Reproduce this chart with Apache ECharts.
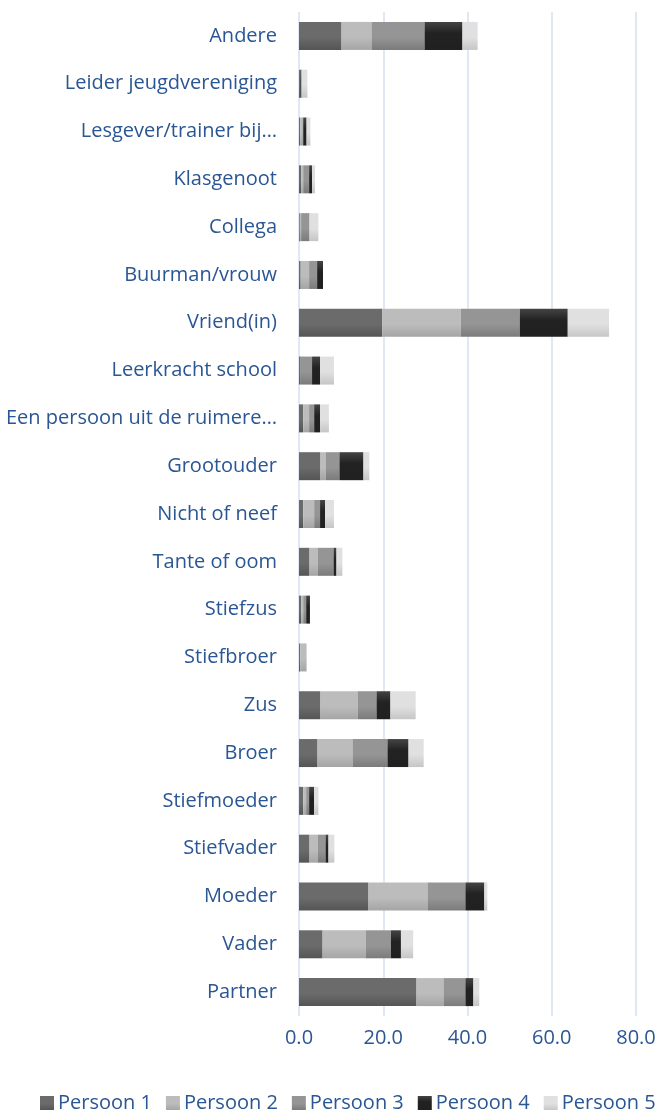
<!DOCTYPE html>
<html>
<head>
<meta charset="utf-8">
<script src="https://cdn.jsdelivr.net/npm/echarts@6/dist/echarts.min.js"></script>
<style>
  html, body { margin: 0; padding: 0; background: #fff; }
  #chart { width: 655px; height: 1110px; }
</style>
</head>
<body>
<div id="chart"></div>
<script>
var categories = ['Andere', 'Leider jeugdvereniging', 'Lesgever/trainer bij…', 'Klasgenoot', 'Collega',
    'Buurman/vrouw', 'Vriend(in)', 'Leerkracht school', 'Een persoon uit de ruimere…', 'Grootouder',
    'Nicht of neef', 'Tante of oom', 'Stiefzus', 'Stiefbroer', 'Zus', 'Broer', 'Stiefmoeder',
    'Stiefvader', 'Moeder', 'Vader', 'Partner'];

var persoon1 = [10.1, 0.3, 0.3, 0.5, 0.2, 0.4, 19.8, 0.4, 1.0, 5.1, 1.0, 2.5, 0.5, 0.3, 5.1, 4.4, 1.0, 2.5, 16.5, 5.6, 27.9];
var persoon2 = [7.1, 0, 0.5, 0.5, 0.3, 2.0, 18.6, 0, 1.4, 1.2, 2.6, 1.9, 0.5, 1.5, 8.8, 8.3, 0.7, 1.9, 14.0, 10.2, 6.4];
var persoon3 = [12.6, 0, 0.2, 1.4, 2.0, 1.9, 14.0, 2.7, 1.2, 3.3, 1.4, 3.8, 0.7, 0, 4.5, 8.3, 0.7, 1.9, 9.0, 6.0, 5.2];
var persoon4 = [9.0, 0.3, 0.8, 0.7, 0, 1.4, 11.4, 1.9, 1.4, 5.7, 1.2, 0.7, 0.9, 0, 3.3, 5.0, 1.2, 0.7, 4.5, 2.4, 1.9];
var persoon5 = [3.6, 1.4, 0.9, 0.7, 2.1, 0, 9.8, 3.3, 2.1, 1.4, 2.1, 1.4, 0, 0, 6.0, 3.6, 1.0, 1.4, 0.7, 2.9, 1.4];

var xTicks = [0, 20, 40, 60, 80];

var textBlue = '#2a5694';
var font = '"Open Sans", sans-serif';

function grad(top, bottom) {
    return new echarts.graphic.LinearGradient(0, 0, 0, 1, [
        { offset: 0, color: top },
        { offset: 0.55, color: top },
        { offset: 1, color: bottom }
    ]);
}

var seriesDefs = [
    { name: 'Persoon 1', data: persoon1, color: grad('#6b6b6b', '#555555') },
    { name: 'Persoon 2', data: persoon2, color: grad('#bcbcbc', '#a5a5a5') },
    { name: 'Persoon 3', data: persoon3, color: grad('#959595', '#7b7b7b') },
    { name: 'Persoon 4', data: persoon4, color: new echarts.graphic.LinearGradient(0, 0, 0, 1, [
        { offset: 0, color: '#444444' }, { offset: 0.4, color: '#222222' }, { offset: 1, color: '#202020' }]) },
    { name: 'Persoon 5', data: persoon5, color: grad('#e0e0e0', '#c6c6c6') }
];

var chart = echarts.init(document.getElementById('chart'));

chart.setOption({
    animation: false,
    grid: { left: 299, right: 19, top: 12, bottom: 94, containLabel: false, outerBoundsMode: 'none' },
    legend: {
        left: 35,
        top: 1088,
        width: 900,
        itemWidth: 14,
        itemHeight: 14,
        itemGap: 14,
        icon: 'rect',
        textStyle: { color: textBlue, fontSize: 20, fontFamily: font, padding: [0, 0, 0, -1] },
        data: seriesDefs.map(function (s) { return s.name; })
    },
    xAxis: {
        type: 'value',
        min: xTicks[0],
        max: xTicks[xTicks.length - 1],
        interval: 20,
        axisLine: { show: false },
        axisTick: { show: false },
        splitLine: { show: true, lineStyle: { color: '#d5e2f3', width: 1.5 } },
        axisLabel: {
            color: textBlue,
            fontSize: 20,
            fontFamily: font,
            margin: 12,
            formatter: function (v) { return v.toFixed(1); }
        }
    },
    yAxis: {
        type: 'category',
        inverse: true,
        data: categories,
        axisLine: { show: false },
        axisTick: { show: false },
        axisLabel: { color: textBlue, fontSize: 20, fontFamily: font, margin: 22 }
    },
    series: seriesDefs.map(function (s) {
        return {
            name: s.name,
            type: 'bar',
            stack: 'total',
            barWidth: 28,
            data: s.data,
            itemStyle: { color: s.color }
        };
    })
});
</script>
</body>
</html>
